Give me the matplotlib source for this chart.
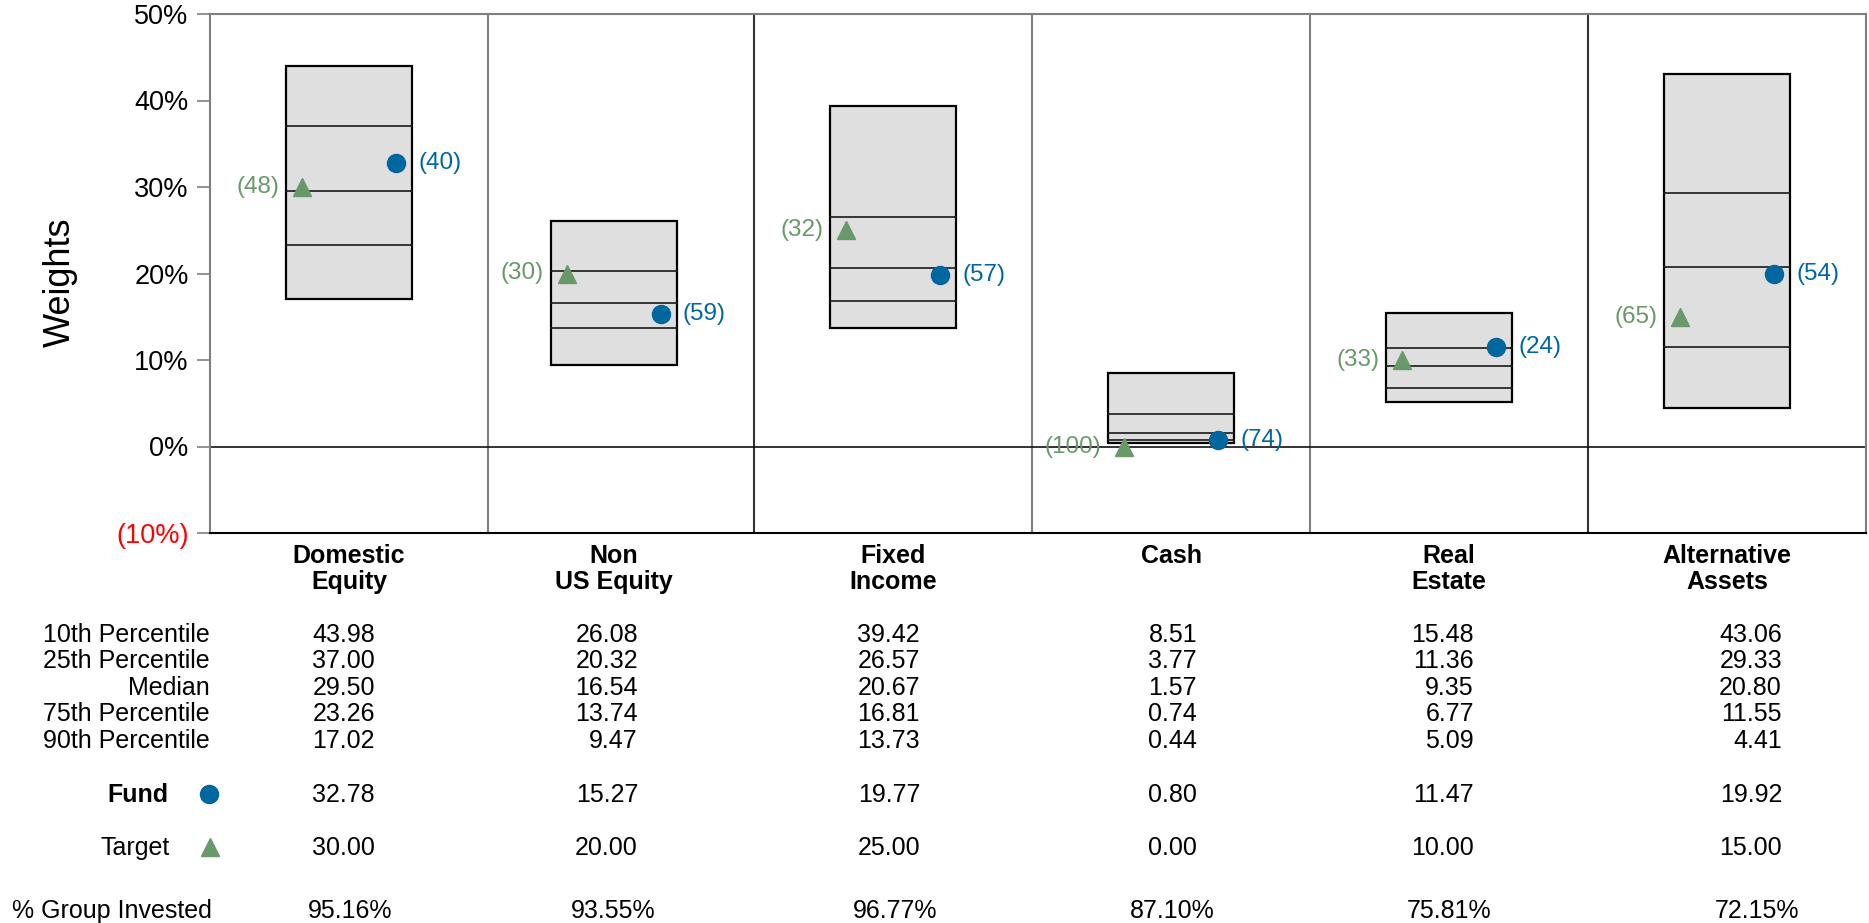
import matplotlib.pyplot as plt
from matplotlib.patches import Rectangle
from matplotlib.transforms import blended_transform_factory

plt.rcParams['font.family'] = ['Liberation Sans', 'DejaVu Sans']

# Asset classes and universe percentiles (weights in %)
categories = ["Domestic\nEquity", "Non\nUS Equity", "Fixed\nIncome", "Cash", "Real\nEstate", "Alternative\nAssets"]
p10 = [43.98, 26.08, 39.42, 8.51, 15.48, 43.06]
p25 = [37.00, 20.32, 26.57, 3.77, 11.36, 29.33]
median = [29.50, 16.54, 20.67, 1.57, 9.35, 20.80]
p75 = [23.26, 13.74, 16.81, 0.74, 6.77, 11.55]
p90 = [17.02, 9.47, 13.73, 0.44, 5.09, 4.41]

fund = [32.78, 15.27, 19.77, 0.80, 11.47, 19.92]
target = [30.00, 20.00, 25.00, 0.00, 10.00, 15.00]
fund_rank = [40, 59, 57, 74, 24, 54]
target_rank = [48, 30, 32, 100, 33, 65]
group_invested = [95.16, 93.55, 96.77, 87.10, 75.81, 72.15]

y_ticks = [-10, 0, 10, 20, 30, 40, 50]
y_tick_labels = ["(10%)", "0%", "10%", "20%", "30%", "40%", "50%"]
row_labels = ["10th Percentile", "25th Percentile", "Median", "75th Percentile", "90th Percentile"]

# layout, in pixels from the left edge of the plot area
box_x = [139, 404, 683, 961, 1239, 1517]
dividers = [278, 544, 822, 1100, 1378]
divider_colors = ['#7f7f7f', '#333333', '#7f7f7f', '#7f7f7f', '#333333']
table_x = [140, 403, 685, 962, 1239, 1547]
box_half = 63
mark_dx = 47
num_dx = 25

BLUE = '#00669e'
GREEN = '#69996a'
BOX = '#dfdfdf'
GRID = '#7f7f7f'
FS = 18

W, H = 1869, 923
fig = plt.figure(figsize=(W / 100, H / 100), dpi=100)
ax = fig.add_axes([210 / W, 1 - 533 / H, 1656 / W, 519 / H])

n = len(categories)
ax.set_xlim(0, 1656)
ax.set_ylim(-10, 50)

for i in range(n):
    c = box_x[i]
    ax.add_patch(Rectangle((c - box_half, p90[i]), 2 * box_half, p10[i] - p90[i],
                           facecolor=BOX, edgecolor='black', lw=1.6, zorder=2))
    for v in (p25[i], median[i], p75[i]):
        ax.plot([c - box_half, c + box_half], [v, v], color='#1a1a1a', lw=1.2, zorder=3)
    # target triangle and fund circle with their ranks
    ax.plot(c - mark_dx, target[i], marker='^', ms=12.5, color=GREEN, mec=GREEN, zorder=5, clip_on=False)
    ax.plot(c + mark_dx, fund[i], marker='o', ms=13, color=BLUE, mec=BLUE, zorder=5, clip_on=False)
    ax.text(c - box_half - 7, target[i], f"({target_rank[i]})", color=GREEN, fontsize=17.5,
            ha='right', va='center', zorder=6)
    ax.text(c + box_half + 6, fund[i], f"({fund_rank[i]})", color=BLUE, fontsize=17.5,
            ha='left', va='center', zorder=6)

# column dividers and zero line
for d, col in zip(dividers, divider_colors):
    ax.axvline(d, color=col, lw=1.5, zorder=1)
ax.axhline(0, color='#111111', lw=1.2, zorder=1)

ax.set_xticks([])
ax.set_yticks(y_ticks)
ax.set_yticklabels(y_tick_labels, fontsize=19.5)
ax.get_yticklabels()[0].set_color('red')
ax.tick_params(axis='y', length=9.4, width=1.2, color=GRID, pad=6)
for side in ('top', 'left', 'right'):
    ax.spines[side].set_color(GRID)
    ax.spines[side].set_linewidth(1.5)
ax.spines['bottom'].set_color('black')
ax.spines['bottom'].set_linewidth(1.5)


def fy(px):
    return 1 - px / H


fig.text(60 / W, fy(282), "Weights", rotation=90, ha='center', va='center', fontsize=26)

# table under the chart
tr = blended_transform_factory(ax.transData, fig.transFigure)

for i, cat in enumerate(categories):
    ax.text(box_x[i], fy(544), cat, transform=tr, ha='center', va='top',
            fontsize=18, fontweight='bold', linespacing=1.12)

row_y = [635, 661, 688, 714, 741]
rows = [p10, p25, median, p75, p90]
for label, y, vals in zip(row_labels, row_y, rows):
    fig.text(210 / W, fy(y), label, ha='right', va='center', fontsize=FS)
    for i, v in enumerate(vals):
        ax.text(table_x[i] + num_dx, fy(y), f"{v:.2f}", transform=tr, ha='right', va='center', fontsize=FS)

fig.text(168 / W, fy(795), "Fund", ha='right', va='center', fontsize=FS, fontweight='bold')
fig.add_artist(plt.Line2D([209 / W], [fy(794)], marker='o', ms=13, color=BLUE, transform=fig.transFigure))
fig.text(170 / W, fy(848), "Target", ha='right', va='center', fontsize=FS)
fig.add_artist(plt.Line2D([210 / W], [fy(847)], marker='^', ms=12.5, color=GREEN, transform=fig.transFigure))
for i in range(n):
    ax.text(table_x[i] + num_dx, fy(795), f"{fund[i]:.2f}", transform=tr, ha='right', va='center', fontsize=FS)
    ax.text(table_x[i] + num_dx, fy(848), f"{target[i]:.2f}", transform=tr, ha='right', va='center', fontsize=FS)

fig.text(12 / W, fy(911), "% Group Invested", ha='left', va='center', fontsize=FS)
for i in range(n):
    ax.text(table_x[i], fy(911), f"{group_invested[i]:.2f}%", transform=tr, ha='center', va='center', fontsize=FS)

fig.savefig("out.png", dpi=100, facecolor='white')
